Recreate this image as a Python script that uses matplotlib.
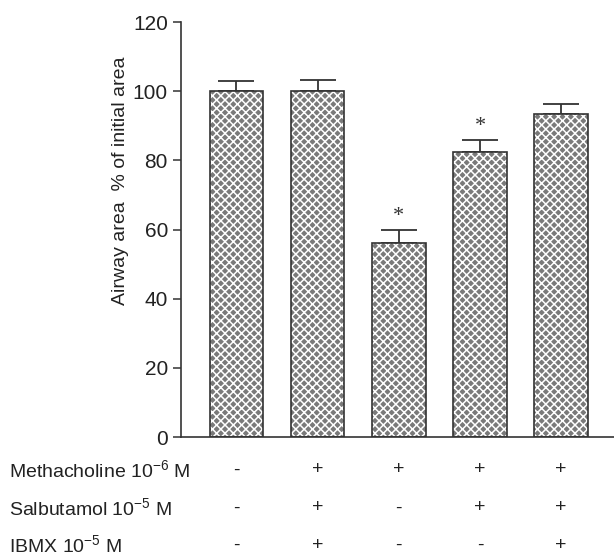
import matplotlib
matplotlib.use("Agg")
import matplotlib.pyplot as plt
from matplotlib.transforms import blended_transform_factory

# values
groups = ["ctrl", "MCh+Salb+IBMX", "MCh", "MCh+Salb", "MCh+Salb+IBMX"]
means = [100.0, 100.2, 56.1, 82.4, 93.4]
errors = [3.0, 3.1, 3.7, 3.4, 2.8]
signif = [False, False, True, True, False]

row_labels = ["Methacholine 10$^{-6}$ M", "Salbutamol 10$^{-5}$ M", "IBMX 10$^{-5}$ M"]
row_signs = [
    ["-", "+", "+", "+", "+"],
    ["-", "+", "-", "+", "+"],
    ["-", "+", "-", "-", "+"],
]

plt.rcParams["font.family"] = ["Liberation Sans", "DejaVu Sans"]
plt.rcParams["mathtext.fontset"] = "custom"
plt.rcParams["mathtext.rm"] = "Liberation Sans"
plt.rcParams["mathtext.it"] = "Liberation Sans"
plt.rcParams["hatch.linewidth"] = 1.1

fig = plt.figure(figsize=(6.14, 5.57), dpi=100)
ax = fig.add_axes([0.295, 0.2154, 0.705, 0.745])

x = list(range(len(means)))
# textured fill
ax.bar(x, means, width=0.66, color="#7a7a7a", edgecolor="white", hatch="xxxx", linewidth=0, zorder=2)
# outline
ax.bar(x, means, width=0.66, fill=False, edgecolor="#333333", linewidth=1.2, zorder=3)
ax.errorbar(x, means, yerr=[[0] * len(errors), errors], fmt="none", ecolor="#333333",
            elinewidth=1.3, capsize=13, capthick=1.3, zorder=1)

for xi, m, e, s in zip(x, means, errors, signif):
    if s:
        ax.text(xi, m + e + 1.2, "*", ha="center", va="bottom", fontsize=16,
                family="Liberation Serif", color="#333333")

ax.set_ylim(0, 120)
ax.set_xlim(-0.68, 4.65)
ax.set_yticks([0, 20, 40, 60, 80, 100, 120])
ax.set_xticks([])
ax.tick_params(axis="y", direction="out", length=6, width=1.1, labelsize=15, colors="#333333",
               labelcolor="#222222")
for side in ["top", "right"]:
    ax.spines[side].set_visible(False)
for side in ["left", "bottom"]:
    ax.spines[side].set_linewidth(1.2)
    ax.spines[side].set_color("#333333")

fig.text(0.197, 0.675, "Airway area  % of initial area", rotation=90, ha="center", va="center",
         fontsize=14, color="#222222")

trans = blended_transform_factory(ax.transData, fig.transFigure)
row_y = [1 - 470 / 557, 1 - 508 / 557, 1 - 545 / 557]
for lab, signs, yy in zip(row_labels, row_signs, row_y):
    fig.text(0.015, yy, lab, ha="left", va="center", fontsize=14, color="#222222")
    for xi, sg in zip(x, signs):
        ax.text(xi, yy, sg, transform=trans, ha="center", va="center", fontsize=14, color="#222222")

fig.savefig("out.png", dpi=100)
